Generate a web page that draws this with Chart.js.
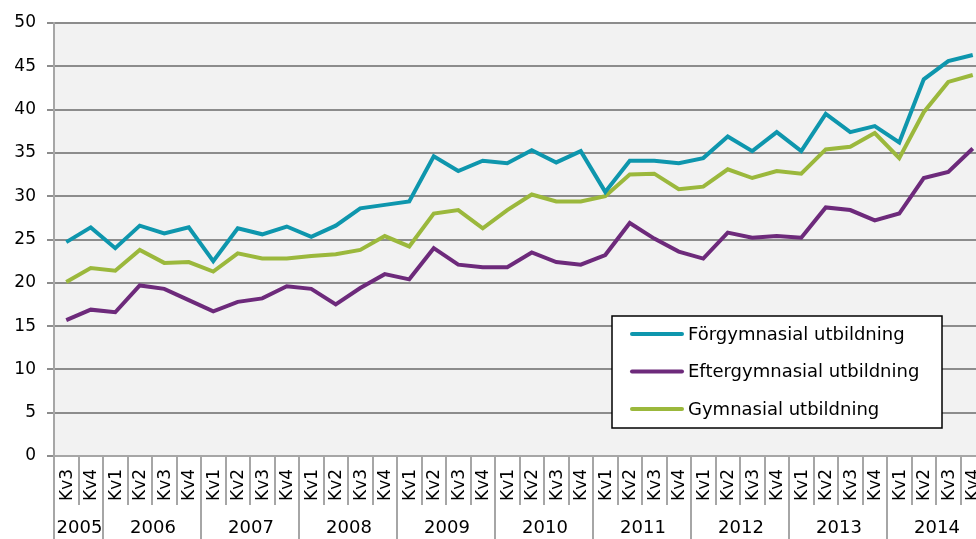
<!DOCTYPE html>
<html>
<head>
<meta charset="utf-8">
<script src="https://cdn.jsdelivr.net/npm/chart.js@4/dist/chart.umd.min.js"></script>
<style>
  html, body { margin: 0; padding: 0; background: #fff; overflow: hidden; }
  #wrap { position: relative; width: 976px; height: 539px; overflow: hidden; }
  #chart { position: absolute; left: 0; top: 0; }
</style>
</head>
<body>
<div id="wrap"><canvas id="chart" width="1000" height="539"></canvas></div>
<script>
const years = ['2005', '2006', '2007', '2008', '2009', '2010', '2011', '2012', '2013', '2014'];
const quarters = ['Kv3', 'Kv4',
  'Kv1', 'Kv2', 'Kv3', 'Kv4', 'Kv1', 'Kv2', 'Kv3', 'Kv4', 'Kv1', 'Kv2', 'Kv3', 'Kv4',
  'Kv1', 'Kv2', 'Kv3', 'Kv4', 'Kv1', 'Kv2', 'Kv3', 'Kv4', 'Kv1', 'Kv2', 'Kv3', 'Kv4',
  'Kv1', 'Kv2', 'Kv3', 'Kv4', 'Kv1', 'Kv2', 'Kv3', 'Kv4', 'Kv1', 'Kv2', 'Kv3', 'Kv4'];
// number of quarters shown per year
const yearSpans = [2, 4, 4, 4, 4, 4, 4, 4, 4, 4];

const forgymnasial = [24.7, 26.4, 24.0, 26.6, 25.7, 26.4, 22.5, 26.3, 25.6, 26.5,
  25.3, 26.6, 28.6, 29.0, 29.4, 34.6, 32.9, 34.1, 33.8, 35.3,
  33.9, 35.2, 30.5, 34.1, 34.1, 33.8, 34.4, 36.9, 35.2, 37.4,
  35.2, 39.5, 37.4, 38.1, 36.2, 43.5, 45.6, 46.3];
const eftergymnasial = [15.7, 16.9, 16.6, 19.7, 19.3, 18.0, 16.7, 17.8, 18.2, 19.6,
  19.3, 17.5, 19.4, 21.0, 20.4, 24.0, 22.1, 21.8, 21.8, 23.5,
  22.4, 22.1, 23.2, 26.9, 25.1, 23.6, 22.8, 25.8, 25.2, 25.4,
  25.2, 28.7, 28.4, 27.2, 28.0, 32.1, 32.8, 35.5];
const gymnasial = [20.1, 21.7, 21.4, 23.8, 22.3, 22.4, 21.3, 23.4, 22.8, 22.8,
  23.1, 23.3, 23.8, 25.4, 24.2, 28.0, 28.4, 26.3, 28.4, 30.2,
  29.4, 29.4, 30.0, 32.5, 32.6, 30.8, 31.1, 33.1, 32.1, 32.9,
  32.6, 35.4, 35.7, 37.3, 34.4, 39.7, 43.2, 44.0];

const seriesNames = ['Förgymnasial utbildning', 'Eftergymnasial utbildning', 'Gymnasial utbildning'];
const seriesColors = ['#0e96ad', '#6d2a7b', '#9bb83c'];

const FONT = 'DejaVu Sans';
Chart.defaults.font.family = FONT;

// plot background, x axis labels with year groups, and the boxed legend
const decor = {
  id: 'decor',
  beforeDraw(chart) {
    const a = chart.chartArea, ctx = chart.ctx;
    ctx.save();
    ctx.fillStyle = '#f2f2f2';
    ctx.fillRect(a.left, a.top, a.right - a.left, a.bottom - a.top);
    ctx.restore();
  },
  afterDraw(chart) {
    const ctx = chart.ctx, a = chart.chartArea, x = chart.scales.x;
    const step = x.getPixelForValue(1) - x.getPixelForValue(0);
    ctx.save();
    // separators between quarters and years
    ctx.strokeStyle = '#a6a6a6';
    ctx.lineWidth = 2;
    const yearStarts = [];
    let k = 0;
    yearSpans.forEach(n => { yearStarts.push(k); k += n; });
    for (let i = 0; i <= quarters.length; i++) {
      const px = Math.round(x.getPixelForValue(i) - step / 2);
      const isYear = yearStarts.includes(i) || i === quarters.length;
      ctx.beginPath();
      ctx.moveTo(px, a.bottom);
      ctx.lineTo(px, isYear ? 539 : 505);
      ctx.stroke();
    }
    // quarter labels, rotated
    ctx.fillStyle = '#000';
    ctx.font = '17px ' + FONT;
    ctx.textAlign = 'center';
    ctx.textBaseline = 'middle';
    quarters.forEach((q, i) => {
      const px = x.getPixelForValue(i);
      ctx.save();
      ctx.translate(px, 485);
      ctx.rotate(-Math.PI / 2);
      ctx.fillText(q, 0, 1);
      ctx.restore();
    });
    // year labels
    ctx.font = '18px ' + FONT;
    years.forEach((y, j) => {
      const s = yearStarts[j], e = s + yearSpans[j] - 1;
      const cx = (x.getPixelForValue(s) + x.getPixelForValue(e)) / 2;
      ctx.fillText(y, cx + 1, 528);
    });
    // legend
    const lx = 612, ly = 316, lw = 330, lh = 112;
    ctx.fillStyle = '#fff';
    ctx.fillRect(lx, ly, lw, lh);
    ctx.strokeStyle = '#000';
    ctx.lineWidth = 1.5;
    ctx.strokeRect(lx, ly, lw, lh);
    ctx.textAlign = 'left';
    ctx.font = '18px ' + FONT;
    chart.data.datasets.forEach((ds, i) => {
      const cy = 334 + i * 37.5;
      ctx.strokeStyle = ds.borderColor;
      ctx.lineWidth = 4;
      ctx.lineCap = 'round';
      ctx.beginPath();
      ctx.moveTo(632, cy);
      ctx.lineTo(682, cy);
      ctx.stroke();
      ctx.fillStyle = '#000';
      ctx.fillText(ds.label, 688, cy + 1);
    });
    ctx.restore();
  }
};

new Chart(document.getElementById('chart'), {
  type: 'line',
  data: {
    labels: quarters,
    datasets: [
      { label: seriesNames[0], data: forgymnasial, borderColor: seriesColors[0] },
      { label: seriesNames[1], data: eftergymnasial, borderColor: seriesColors[1] },
      { label: seriesNames[2], data: gymnasial, borderColor: seriesColors[2] }
    ].map(d => Object.assign(d, { borderWidth: 4, pointRadius: 0, tension: 0, fill: false }))
  },
  options: {
    responsive: false,
    animation: false,
    layout: { padding: { left: 0, right: 15, top: 23, bottom: 0 } },
    plugins: { legend: { display: false }, tooltip: { enabled: false } },
    scales: {
      x: {
        offset: true,
        grid: { display: false },
        ticks: { display: false },
        border: { display: true, color: '#a6a6a6', width: 2 },
        afterFit(s) { s.height = 83; }
      },
      y: {
        min: 0,
        max: 50,
        ticks: { stepSize: 5, color: '#000', font: { size: 17 }, padding: 11 },
        grid: { color: '#8c8c8c', lineWidth: 2, tickLength: 7 },
        border: { display: true, color: '#a6a6a6', width: 2 },
        afterFit(s) { s.width = 54; }
      }
    }
  },
  plugins: [decor]
});
</script>
</body>
</html>
